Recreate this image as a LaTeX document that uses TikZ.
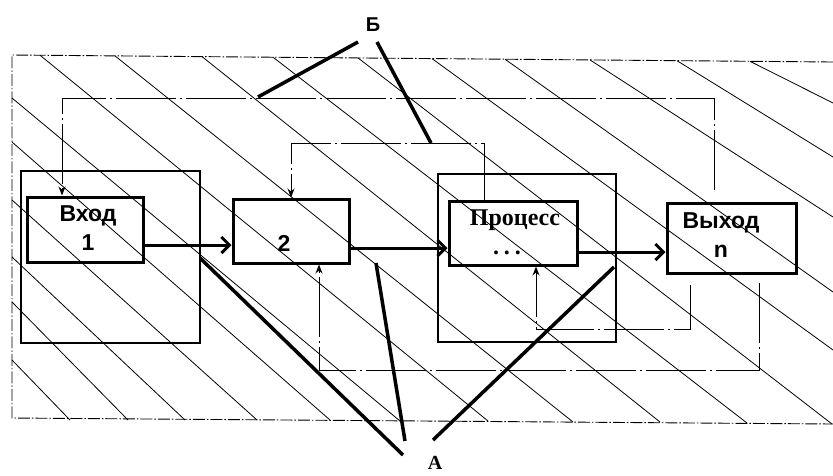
\documentclass[tikz,border=0pt]{standalone}
\usepackage{fontspec}
\setmainfont{Liberation Serif}
\setsansfont{Liberation Sans}
\usetikzlibrary{arrows.meta}
\begin{document}
\begin{tikzpicture}[x=1pt,y=-1pt,
  hatch/.style={line width=0.8pt},
  border/.style={line width=0.9pt, dash pattern=on 12pt off 2pt on 1.5pt off 2pt},
  thickbox/.style={draw, line width=3pt, rectangle, inner sep=0pt},
  framebox/.style={draw, line width=2pt, rectangle, inner sep=0pt},
  sanslabel/.style={font=\sffamily\bfseries\fontsize{23}{29}\selectfont, inner sep=0pt, align=center},
  seriflabel/.style={font=\rmfamily\bfseries\fontsize{24}{29}\selectfont, inner sep=0pt, align=center},
  mainarrow/.style={line width=3pt, -{Straight Barb[length=8pt, width=16pt]}},
  fb/.style={line width=1pt, dash pattern=on 60pt off 4pt on 2pt off 4pt},
  fbarrow/.style={fb, -{Stealth[length=9pt, width=7pt]}},
  pointer/.style={line width=3.5pt}
]
\useasboundingbox (0,0) rectangle (833,475);

% hatching of the outer region
\foreach \ax/\ay/\bx/\by in {
  12/360/70/420, 12/302/128/420, 12/257/185/420, 12/200/257/420,
  12/142/330/420, 12/98/400/421,
  40/55.2/488/421, 115/55.9/573/422, 202/56.6/660/422, 273/57.2/747/423,
  358/57.9/832/424, 432/58.6/833/350, 505/59.2/833/292, 590/59.9/833/217,
  677/60.7/833/157, 750/61.3/833/103}
  \draw[hatch] (\ax,\ay) -- (\bx,\by);

% outer dash-dotted border
\draw[border] (833,62) -- (12,55) -- (12,418) -- (833,424);

% frames
\node[framebox, minimum width=179pt, minimum height=172pt] (infr) at (110.5,257) {};
\node[framebox, minimum width=178pt, minimum height=168pt] (procfr) at (527,258) {};

% blocks
\node[thickbox, minimum width=116pt, minimum height=65pt] (in) at (85,229.5) {};
\node[thickbox, minimum width=116pt, minimum height=64pt] (box2) at (291,231) {};
\node[thickbox, minimum width=128pt, minimum height=64pt] (proc) at (513,233) {};
\node[thickbox, minimum width=129pt, minimum height=70pt] (out) at (731.5,238) {};

% texts
\node[sanslabel] (tin) at (88,228.5) {Вход\\1};
\node[sanslabel] (t2) at (284,243) {2};
\node[seriflabel] (tproc) at (515,220) {Процесс};
\node[seriflabel] (tdots) at (507,253) {.\hspace{5pt}.\hspace{5pt}.};
\node[sanslabel] (tout) at (721,235) {Выход\\n};

% main flow arrows
\draw[mainarrow] ([yshift=-15.5pt]in.east) -- ([yshift=-14pt]box2.west);
\draw[mainarrow] ([yshift=-17pt]box2.east) -- ([yshift=-15pt]proc.west);
\draw[mainarrow] ([yshift=-19pt]proc.east) -- ([yshift=-14pt]out.west);

% feedback lines
\coordinate (fb1s) at (714,190);
\coordinate (fb1c) at (62,98);
\draw[fbarrow] (fb1s) |- (fb1c) -- (fb1c |- in.north);

\coordinate (fb2c) at (291,143);
\draw[fbarrow] ([xshift=-29pt]proc.north) |- (fb2c) -- (box2.north);

\coordinate (fb3s) at (759,283);
\coordinate (fb3c) at (319,370);
\draw[fbarrow] (fb3s) |- (fb3c) -- (fb3c |- box2.south);

\coordinate (fb4s) at (690,285);
\coordinate (fb4c) at (536,329);
\draw[fbarrow] (fb4s) |- (fb4c) -- (fb4c |- proc.south);

% labels with pointers
\node[font=\sffamily\bfseries\fontsize{20}{20}\selectfont, inner sep=0pt] (lb) at (373,25) {Б};
\node[font=\rmfamily\bfseries\fontsize{20}{20}\selectfont, inner sep=0pt] (la) at (435,463) {А};

\coordinate (b1s) at (358,42);
\coordinate (b1e) at (258,97);
\coordinate (b2s) at (377,42);
\coordinate (b2e) at (431,143);
\draw[pointer] (b1s) -- (b1e);
\draw[pointer] (b2s) -- (b2e);

\coordinate (a1s) at (200,258);
\coordinate (a1e) at (403,455);
\coordinate (a2s) at (376,263);
\coordinate (a2e) at (405,441);
\coordinate (a3s) at (614,267);
\coordinate (a3e) at (433,440);
\draw[pointer] (a1s) -- (a1e);
\draw[pointer] (a2s) -- (a2e);
\draw[pointer] (a3s) -- (a3e);
\end{tikzpicture}
\end{document}
